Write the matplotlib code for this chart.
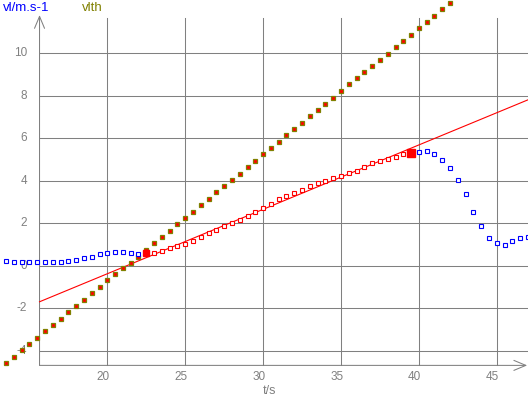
import matplotlib.pyplot as plt
import matplotlib.transforms as mtransforms

plt.rcParams['font.family'] = ['Liberation Sans', 'DejaVu Sans']

# sampling times (s)
t = [13.5, 14.0, 14.5, 15.0, 15.5, 16.0, 16.5, 17.0, 17.5, 18.0, 18.5, 19.0,
     19.5, 20.0, 20.5, 21.0, 21.5, 22.0, 22.5, 23.0, 23.5, 24.0, 24.5, 25.0,
     25.5, 26.0, 26.5, 27.0, 27.5, 28.0, 28.5, 29.0, 29.5, 30.0, 30.5, 31.0,
     31.5, 32.0, 32.5, 33.0, 33.5, 34.0, 34.5, 35.0, 35.5, 36.0, 36.5, 37.0,
     37.5, 38.0, 38.5, 39.0, 39.5, 40.0, 40.5, 41.0, 41.5, 42.0, 42.5, 43.0,
     43.5, 44.0, 44.5, 45.0, 45.5, 46.0, 46.5, 47.0]

# measured speed vl (m/s)
vl = [0.22, 0.18, 0.18, 0.18, 0.18, 0.18, 0.18, 0.18, 0.24, 0.29, 0.35, 0.44,
      0.56, 0.61, 0.65, 0.63, 0.60, 0.56, 0.59, 0.62, 0.72, 0.83, 0.95, 1.04,
      1.17, 1.37, 1.56, 1.70, 1.88, 2.03, 2.17, 2.35, 2.55, 2.73, 2.93, 3.15,
      3.29, 3.43, 3.57, 3.76, 3.90, 3.99, 4.14, 4.24, 4.38, 4.46, 4.67, 4.83,
      4.93, 5.01, 5.14, 5.25, 5.30, 5.36, 5.40, 5.28, 4.97, 4.62, 4.04, 3.37,
      2.52, 1.86, 1.33, 1.09, 0.97, 1.16, 1.33, 1.37]

# theoretical speed vlth (m/s), same times, stops where it leaves the top
vlth = [-4.57, -4.27, -3.97, -3.67, -3.38, -3.05, -2.78, -2.48, -2.18, -1.89,
        -1.60, -1.27, -0.99, -0.68, -0.38, -0.10, 0.14, 0.43, 0.75, 1.06,
        1.36, 1.66, 1.96, 2.26, 2.55, 2.85, 3.15, 3.46, 3.76, 4.05, 4.34,
        4.64, 4.95, 5.25, 5.55, 5.84, 6.14, 6.44, 6.74, 7.04, 7.32, 7.60,
        7.88, 8.21, 8.54, 8.82, 9.11, 9.38, 9.68, 9.98, 10.28, 10.59, 10.87,
        11.20, 11.49, 11.77, 12.07, 12.38]

# cursors delimiting the modelled range, and the linear model
cursor_t = [22.5, 39.5]
fit_slope = 0.303
fit_intercept = -6.43

xticks = [20, 25, 30, 35, 40, 45]
yticks = [-4, -2, 0, 2, 4, 6, 8, 10]

# where the axis lines sit
x0, x1 = 15.65, 46.95
y0, y1 = -4.68, 11.80

gray = '#808080'
olive = '#808000'

fig = plt.figure(figsize=(5.28, 3.96), dpi=100)
ax = fig.add_axes([0, 0, 1, 1])
ax.set_xlim(13.113, 47.003)
ax.set_ylim(-6.12, 12.507)
ax.axis('off')

# grid
for x in xticks:
    ax.plot([x, x], [y0, 11.66], color=gray, lw=0.75, zorder=1)
for y in yticks:
    ax.plot([x0, 47.003], [y, y], color=gray, lw=0.75, zorder=1)

# axis lines with open arrow heads
arrow = dict(arrowstyle='->,head_length=0.86,head_width=0.36', color=gray,
             lw=0.75, shrinkA=0, shrinkB=0)
ax.annotate('', xy=(x0, y1), xytext=(x0, y0), arrowprops=arrow, zorder=2)
ax.annotate('', xy=(x1, y0), xytext=(x0, y0), arrowprops=arrow, zorder=2)

# tick labels
xlab = mtransforms.offset_copy(ax.transData, fig=fig, x=-3, y=0, units='points')
for x in xticks:
    ax.text(x, -5.23, str(x), transform=xlab, ha='center', va='center',
            color=gray, fontsize=8.5)
ylab = mtransforms.offset_copy(ax.transData, fig=fig, x=-9, y=0, units='points')
for y in yticks:
    ax.text(x0, y, str(y), transform=ylab, ha='right', va='center',
            color=gray, fontsize=8.5)

fig.text(3 / 528, 1 - 8 / 396, 'vl/m.s-1', color='blue', fontsize=9.5,
         ha='left', va='center')
fig.text(82 / 528, 1 - 8 / 396, 'vlth', color=olive, fontsize=9.5,
         ha='left', va='center')
fig.text(270 / 528, 5 / 396, 't/s', color=gray, fontsize=9,
         ha='center', va='center')

# model line
ax.plot([x0, 47.003], [fit_slope * x0 + fit_intercept,
                       fit_slope * 47.003 + fit_intercept],
        color='red', lw=0.8, zorder=3)

# vlth
ax.plot(t[:len(vlth)], vlth, ls='none', marker='s', ms=2.2, mfc='red',
        mec=olive, mew=0.9, zorder=4)

# vl: blue outside the cursor range, red inside
t_in = [a for a in t if cursor_t[0] < a < cursor_t[1]]
v_in = [v for a, v in zip(t, vl) if cursor_t[0] < a < cursor_t[1]]
t_out = [a for a in t if a < cursor_t[0] or a > cursor_t[1]]
v_out = [v for a, v in zip(t, vl) if a < cursor_t[0] or a > cursor_t[1]]
ax.plot(t_out, v_out, ls='none', marker='s', ms=2.3, mfc='white',
        mec='blue', mew=0.8, zorder=5)
ax.plot(t_in, v_in, ls='none', marker='s', ms=2.3, mfc='white',
        mec='red', mew=0.8, zorder=5)

# cursor points
v_cur = [vl[t.index(c)] for c in cursor_t]
ax.plot(cursor_t[0], v_cur[0], ls='none', marker='s', ms=4.2, color='red', zorder=6)
ax.plot(cursor_t[1], v_cur[1], ls='none', marker='s', ms=6, color='red', zorder=6)

fig.savefig('out.png', dpi=100)
